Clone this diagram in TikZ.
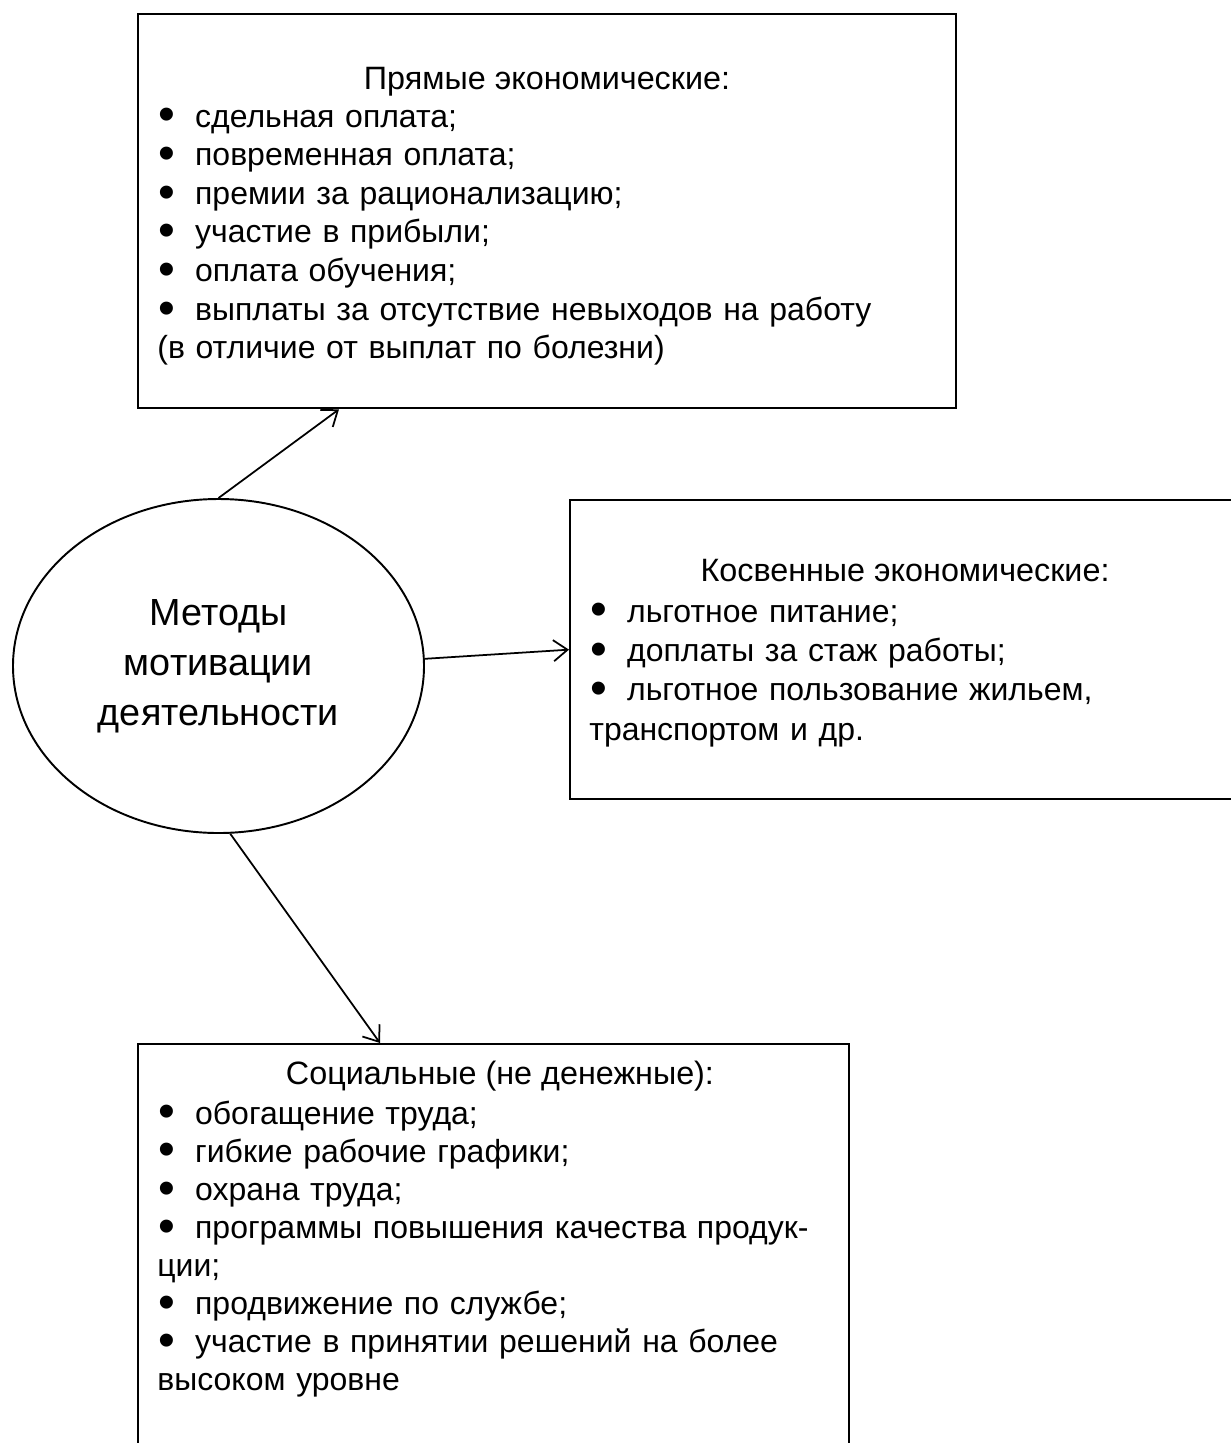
\documentclass[tikz,border=0pt]{standalone}
\usepackage{fontspec}
\setmainfont{Liberation Sans}
\usetikzlibrary{shapes.geometric,arrows.meta}
\newcommand{\punkt}{\makebox[21.5pt][l]{\hspace{0.5pt}\raisebox{-0.12em}{\scalebox{1.5}{\textbullet}}}}
\tikzset{
    rama/.style={draw, line width=1.3pt, inner sep=0pt, anchor=north west},
    zagolovok/.style={anchor=base, inner sep=0pt, font=\fontsize{18.4}{22}\selectfont},
    spisok/.style={anchor=base west, inner sep=0pt, text width=150mm, align=left,
        font=\fontsize{18.2}{22}\selectfont},
    strelka/.style={line width=1pt, -{Straight Barb[length=8pt,width=12pt]}}
}
\begin{document}
\begin{tikzpicture}[x=0.2mm,y=-0.2mm]
                \useasboundingbox (0,0) rectangle (1231,1443);
                \node[rama, minimum width=163.6mm, minimum height=78.8mm] (pryamye) at (137,13) {};
                \node[rama, minimum width=134.2mm, minimum height=59.8mm] (kosvennye) at (569,499) {};
                \node[rama, minimum width=142.2mm, minimum height=83.4mm] (socialnye) at (137,1043) {};
                \node[draw, ellipse, line width=1.1pt, inner sep=0pt, minimum width=82.2mm, minimum height=66.8mm,
                    align=center, font=\fontsize{21.5}{28.5}\selectfont] (metody) at (218.5,666)
                    {Методы\\мотивации\\деятельности};
                \node[zagolovok] (pryamye-z) at (547,89) {Прямые экономические:};
                \node[spisok] (pryamye-s) at (157,127) {\punkt сдельная оплата;\\
                    \punkt повременная оплата;\\
                    \punkt премии за рационализацию;\\
                    \punkt участие в прибыли;\\
                    \punkt оплата обучения;\\
                    \punkt выплаты за отсутствие невыходов на работу\\
                    (в отличие от выплат по болезни)};
                \node[zagolovok] (kosvennye-z) at (905,581) {Косвенные экономические:};
                \node[spisok, font=\fontsize{18.2}{22.4}\selectfont] (kosvennye-s) at (589,622) {\punkt льготное питание;\\
                    \punkt доплаты за стаж работы;\\
                    \punkt льготное пользование жильем,\\
                    транспортом и др.};
                \node[zagolovok] (socialnye-z) at (500,1084) {Социальные (не денежные):};
                \node[spisok, font=\fontsize{18.2}{21.7}\selectfont] (socialnye-s) at (157,1124) {\punkt обогащение труда;\\
                    \punkt гибкие рабочие графики;\\
                    \punkt охрана труда;\\
                    \punkt программы повышения качества продук-\\
                    ции;\\
                    \punkt продвижение по службе;\\
                    \punkt участие в принятии решений на более\\
                    высоком уровне};
                \draw[strelka] (metody.north) -- ([xshift=40.4mm]pryamye.south west);
                \draw[strelka] (metody.2) -- (kosvennye.west);
                \draw[strelka] (metody.-86) -- ([xshift=48.6mm]socialnye.north west);
            \end{tikzpicture}
\end{document}
